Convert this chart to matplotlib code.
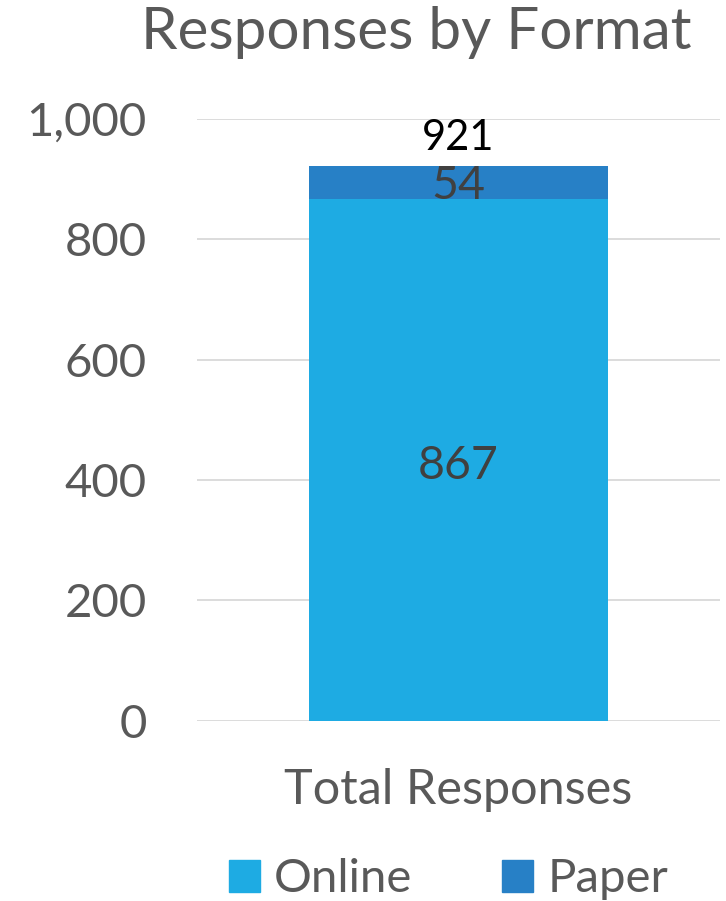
import matplotlib
matplotlib.use("Agg")
import matplotlib.pyplot as plt
from matplotlib.ticker import FuncFormatter
from matplotlib.patches import Patch

plt.rcParams['font.family'] = ['Lato', 'DejaVu Sans']

# data
categories = ['Total Responses']
online = [867]
paper = [54]
series_names = ['Online', 'Paper']
colors = ['#1EABE3', '#2780C6']
grey = '#595959'

totals = [o + p for o, p in zip(online, paper)]

fig = plt.figure(figsize=(7.26, 9.01), dpi=100)
ax = fig.add_axes([0.271, 0.2, 0.721, 0.668])

x = range(len(categories))
ax.bar(x, online, width=0.572, color=colors[0], zorder=2)
ax.bar(x, paper, bottom=online, width=0.572, color=colors[1], zorder=2)

ax.set_xlim(-0.5, 0.5)
ax.set_ylim(0, 1000)
ax.set_yticks(range(0, 1001, 200))
ax.yaxis.set_major_formatter(FuncFormatter(lambda v, p: f'{int(v):,}'))
ax.grid(axis='y', color='#d9d9d9', linewidth=1.3, zorder=0)
for s in ax.spines.values():
    s.set_visible(False)
ax.tick_params(axis='y', length=0, labelsize=34, colors=grey, pad=36)
ax.tick_params(axis='x', length=0, labelsize=35, colors=grey, pad=34)
ax.set_xticks(list(x))
ax.set_xticklabels(categories)

# labels (Excel puts them a touch below centre)
for i in x:
    ax.text(i, online[i] / 2 - 10, str(online[i]), ha='center', va='center',
            fontsize=33.5, color='#404040', zorder=3)
    ax.text(i, online[i] + paper[i] / 2 - 6, str(paper[i]), ha='center', va='center',
            fontsize=33.5, color='#404040', zorder=3)
    ax.text(i, totals[i] + 16, str(totals[i]), ha='center', va='bottom',
            fontsize=30, color='black', zorder=3)

fig.text(0.573, 0.964, 'Responses by Format', ha='center', va='center',
         fontsize=42, color=grey)

handles = [Patch(color=c) for c in colors]
fig.legend(handles, series_names, loc='center', bbox_to_anchor=(0.618, 0.024),
           ncol=2, frameon=False, fontsize=34, labelcolor=grey,
           handlelength=0.65, handleheight=0.65, handletextpad=0.3,
           columnspacing=1.9)

fig.savefig('out.png', dpi=100)
